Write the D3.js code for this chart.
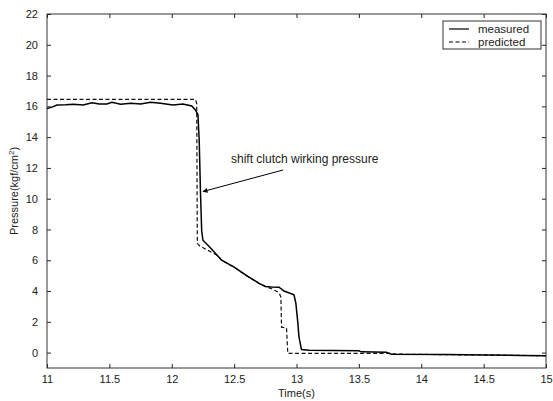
<!DOCTYPE html>
<html>
<head>
<meta charset="utf-8">
<script src="https://cdn.jsdelivr.net/npm/d3@7"></script>
<style>
  body { margin: 0; background: #fff; }
  text { font-family: "Liberation Sans", Arial, sans-serif; fill: #222; }
</style>
</head>
<body>
<div id="chart"></div>
<script>
// measured pressure trace (time s, pressure kgf/cm2)
var measuredT = [11, 11.04, 11.08, 11.15, 11.21, 11.29, 11.36, 11.42, 11.48, 11.52, 11.59, 11.67, 11.75, 11.83, 11.91, 12.01, 12.09, 12.16, 12.19,
  12.21, 12.22, 12.23, 12.24, 12.25, 12.3, 12.4, 12.5, 12.6, 12.7, 12.75, 12.8, 12.86, 12.9, 12.98, 12.995, 13.01, 13.02, 13.04,
  13.1, 13.5, 13.52, 13.72, 13.76, 14.2, 14.8, 15];
var measuredP = [15.85, 15.95, 16.09, 16.1, 16.13, 16.09, 16.24, 16.15, 16.15, 16.26, 16.13, 16.2, 16.15, 16.26, 16.2, 16.09, 16.15, 16.02, 15.77,
  15.45, 13.8, 10.5, 7.9, 7.3, 6.9, 6.0, 5.55, 5.0, 4.5, 4.3, 4.27, 4.25, 4.0, 3.75, 3.2, 2.0, 1.0, 0.2,
  0.15, 0.12, 0.05, 0.03, -0.1, -0.12, -0.18, -0.2];

// predicted pressure trace
var predictedT = [11, 12.19, 12.2, 12.205, 12.22, 12.3, 12.37, 12.4, 12.5, 12.6, 12.7, 12.75, 12.8, 12.86, 12.875, 12.88, 12.92, 12.93,
  13.75, 13.8, 15];
var predictedP = [16.45, 16.45, 16.2, 7.1, 6.95, 6.6, 6.3, 6.0, 5.55, 5.0, 4.5, 4.3, 4.15, 3.9, 3.6, 1.65, 1.6, -0.05,
  -0.05, -0.1, -0.2];

var xTicks = [11, 11.5, 12, 12.5, 13, 13.5, 14, 14.5, 15];
var yTicks = [0, 2, 4, 6, 8, 10, 12, 14, 16, 18, 20, 22];

var margin = { top: 14, right: 7, bottom: 33, left: 47 };
var width = 553 - margin.left - margin.right;
var height = 401 - margin.top - margin.bottom;

var svg = d3.select('#chart').append('svg')
  .attr('width', 553)
  .attr('height', 401);

var g = svg.append('g')
  .attr('transform', `translate(${margin.left}, ${margin.top})`);

var x = d3.scaleLinear().domain([11, 15]).range([0, width]);
var y = d3.scaleLinear().domain([-1, 22]).range([height, 0]);

// axes, ticks inward like matlab
g.append('g')
  .attr('transform', `translate(0, ${height})`)
  .call(d3.axisBottom(x).tickValues(xTicks).tickSizeInner(-4).tickSizeOuter(0).tickPadding(7).tickFormat(d3.format('')))
  .call(a => a.select('.domain').remove());

g.append('g')
  .call(d3.axisTop(x).tickValues(xTicks).tickSizeInner(-4).tickSizeOuter(0).tickFormat(''))
  .call(a => a.select('.domain').remove());

g.append('g')
  .call(d3.axisLeft(y).tickValues(yTicks).tickSizeInner(-4).tickSizeOuter(0).tickPadding(9))
  .call(a => a.select('.domain').remove());

g.append('g')
  .attr('transform', `translate(${width}, 0)`)
  .call(d3.axisRight(y).tickValues(yTicks).tickSizeInner(-4).tickSizeOuter(0).tickFormat(''))
  .call(a => a.select('.domain').remove());

g.selectAll('.tick text')
  .style('font-size', '11px')
  .style('font-family', '"Liberation Sans", Arial, sans-serif')
  .attr('fill', '#222');
g.selectAll('.tick line').attr('stroke', '#222');

// frame
g.append('rect')
  .attr('width', width)
  .attr('height', height)
  .attr('fill', 'none')
  .attr('stroke', '#333')
  .attr('stroke-width', 1);

// lines
var line = d3.line()
  .x(d => x(d[0]))
  .y(d => y(d[1]));

g.append('path')
  .datum(predictedT.map((t, i) => [t, predictedP[i]]))
  .attr('d', line)
  .attr('fill', 'none')
  .attr('stroke', '#111')
  .attr('stroke-width', 1.2)
  .attr('stroke-dasharray', '4,2.5');

g.append('path')
  .datum(measuredT.map((t, i) => [t, measuredP[i]]))
  .attr('d', line)
  .attr('fill', 'none')
  .attr('stroke', '#000')
  .attr('stroke-width', 1.5);

// axis labels
svg.append('text')
  .attr('x', margin.left + x(13))
  .attr('y', 397)
  .attr('text-anchor', 'middle')
  .style('font-size', '11px')
  .text('Time(s)');

var ylab = svg.append('text')
  .attr('transform', `translate(18, ${margin.top + y(10.5)}) rotate(-90)`)
  .attr('text-anchor', 'middle')
  .style('font-size', '11px');
ylab.append('tspan').text('Pressure(kgf/cm');
ylab.append('tspan').attr('dy', -4).style('font-size', '8px').text('2');
ylab.append('tspan').attr('dy', 4).text(')');

// annotation with arrow
svg.append('defs').append('marker')
  .attr('id', 'arrow')
  .attr('viewBox', '0 0 10 10')
  .attr('refX', 9)
  .attr('refY', 5)
  .attr('markerWidth', 7)
  .attr('markerHeight', 5)
  .attr('orient', 'auto')
  .append('path')
    .attr('d', 'M0,0L10,5L0,10z')
    .attr('fill', '#000');

svg.append('line')
  .attr('x1', 283).attr('y1', 170)
  .attr('x2', 203).attr('y2', 191.5)
  .attr('stroke', '#000')
  .attr('stroke-width', 1)
  .attr('marker-end', 'url(#arrow)');

svg.append('text')
  .attr('x', 231)
  .attr('y', 163)
  .style('font-size', '12px')
  .text('shift clutch wirking pressure');

// legend
var legend = svg.append('g');
legend.append('rect')
  .attr('x', 443).attr('y', 21)
  .attr('width', 98).attr('height', 28)
  .attr('fill', '#fff')
  .attr('stroke', '#333');

legend.append('line')
  .attr('x1', 449).attr('x2', 469).attr('y1', 29).attr('y2', 29)
  .attr('stroke', '#000').attr('stroke-width', 1.2);
legend.append('line')
  .attr('x1', 449).attr('x2', 469).attr('y1', 42).attr('y2', 42)
  .attr('stroke', '#000').attr('stroke-width', 1.2).attr('stroke-dasharray', '4,2.5');

legend.append('text').attr('x', 478).attr('y', 33).style('font-size', '11.5px').text('measured');
legend.append('text').attr('x', 478).attr('y', 46).style('font-size', '11.5px').text('predicted');
</script>
</body>
</html>
